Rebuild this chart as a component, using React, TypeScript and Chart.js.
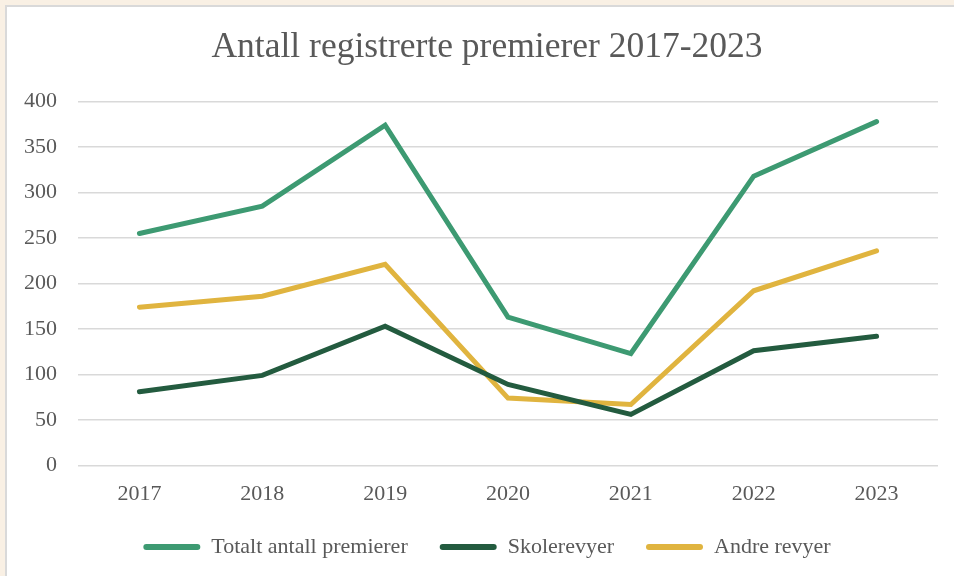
import React, { useEffect, useRef } from "react";
import { Chart, registerables } from "chart.js";

Chart.register(...registerables);

const years = ["2017", "2018", "2019", "2020", "2021", "2022", "2023"];
const totalt = [255, 285, 374, 163, 123, 318, 378];
const skolerevyer = [81, 99, 153, 89, 56, 126, 142];
const andreRevyer = [174, 186, 221, 74, 67, 192, 236];

const seriesNames = ["Totalt antall premierer", "Skolerevyer", "Andre revyer"];
const seriesColors = ["#3D9A72", "#235B3F", "#E0B43F"];
const titleText = "Antall registrerte premierer 2017-2023";

const FONT = "'Liberation Serif', 'Times New Roman', serif";
const TEXT = "#595959";

export default function App() {
  const ref = useRef<HTMLCanvasElement | null>(null);

  useEffect(() => {
    if (!ref.current) return;
    const values = [totalt, skolerevyer, andreRevyer];
    const chart = new Chart(ref.current, {
      type: "line",
      data: {
        labels: years,
        datasets: values.map((v, i) => ({
          label: seriesNames[i],
          data: v,
          borderColor: seriesColors[i],
          backgroundColor: seriesColors[i],
          borderWidth: 5,
          borderCapStyle: "round" as const,
          pointRadius: 0,
          pointHoverRadius: 0,
          tension: 0,
          fill: false,
          yAxisID: "y",
        })),
      },
      options: {
        responsive: false,
        animation: false,
        layout: { padding: { left: 20, right: 0, top: 0, bottom: 8 } },
        plugins: {
          title: {
            display: true,
            text: titleText,
            color: TEXT,
            font: { family: FONT, size: 35.5, weight: "normal" },
            padding: { top: 26.5, bottom: 32.5 },
          },
          legend: {
            position: "bottom",
            labels: {
              color: TEXT,
              font: { family: FONT, size: 22 },
              boxWidth: 57,
              boxHeight: 6,
              useBorderRadius: true,
              borderRadius: 3,
              padding: 32,
              generateLabels: (c: any) =>
                c.data.datasets.map((ds: any, i: number) => ({
                  text: ds.label,
                  fillStyle: ds.borderColor,
                  strokeStyle: ds.borderColor,
                  lineWidth: 0,
                  hidden: false,
                  datasetIndex: i,
                  borderRadius: 3,
                  fontColor: TEXT,
                })),
            },
          },
          tooltip: { enabled: false },
        },
        scales: {
          x: {
            offset: true,
            grid: { display: false, drawTicks: false },
            border: { display: false },
            ticks: {
              color: TEXT,
              font: { family: FONT, size: 22 },
              padding: 16,
            },
            afterFit: (s: any) => {
              s.height = 38.6;
            },
          },
          y: {
            min: 0,
            max: 400,
            grid: { color: "#D9D9D9", lineWidth: 1.5, drawTicks: false },
            border: { display: false },
            ticks: {
              stepSize: 50,
              color: TEXT,
              font: { family: FONT, size: 22 },
              padding: 21,
            },
            afterFit: (s: any) => {
              s.width = 58;
            },
          },
          yRight: {
            position: "right",
            min: 0,
            max: 400,
            grid: { display: false, drawTicks: false },
            border: { display: false },
            ticks: { display: false },
            afterFit: (s: any) => {
              s.width = 16;
            },
          },
        },
      },
    });
    return () => chart.destroy();
  }, []);

  return (
    <div
      style={{
        position: "absolute",
        left: 0,
        top: 0,
        width: 954,
        height: 576,
        background: "#F9F0E4",
        overflow: "hidden",
      }}
    >
      <div
        style={{
          position: "absolute",
          left: 5,
          top: 5,
          width: 960,
          height: 580,
          background: "#FFFFFF",
          borderLeft: "2px solid #D9D9D9",
          borderTop: "2px solid #D9D9D9",
        }}
      />
      <canvas
        ref={ref}
        width={954}
        height={576}
        style={{ position: "absolute", left: 0, top: 0 }}
      />
    </div>
  );
}
